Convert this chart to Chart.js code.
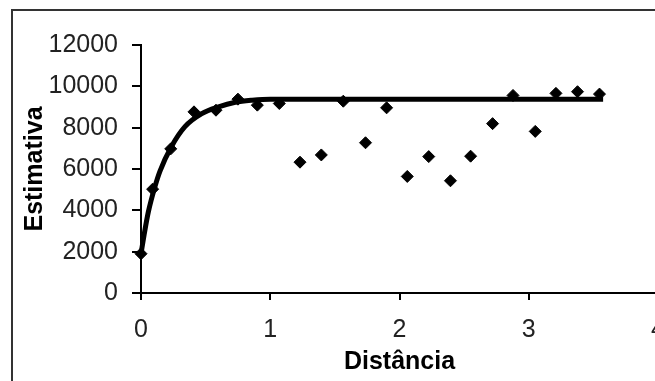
<!DOCTYPE html>
<html>
<head>
<meta charset="utf-8">
<script src="https://cdn.jsdelivr.net/npm/chart.js@4"></script>
<style>
  html, body { margin: 0; padding: 0; width: 655px; height: 381px; overflow: hidden; background: #fff; }
  #wrap { position: absolute; left: 0; top: 0; width: 680px; height: 381px; }
  #frame { position: absolute; left: 11px; top: 9px; width: 700px; height: 400px; border: 2px solid #333; box-sizing: border-box; }
</style>
</head>
<body>
<div id="frame"></div>
<div id="wrap"><canvas id="c" width="680" height="381"></canvas></div>
<script>
// Observed points (Distância, Estimativa)
const pointX = [0, 0.09, 0.23, 0.41, 0.58, 0.75, 0.90, 1.07, 1.23, 1.395, 1.565, 1.737, 1.90, 2.06, 2.226, 2.394, 2.55, 2.72, 2.878, 3.05, 3.21, 3.377, 3.547];
const pointY = [1900, 5025, 6975, 8765, 8845, 9380, 9090, 9170, 6330, 6680, 9280, 7270, 8960, 5640, 6600, 5430, 6620, 8195, 9560, 7820, 9660, 9740, 9625];
// Fitted curve
const curveX = [0, 0.025, 0.056, 0.108, 0.147, 0.237, 0.34, 0.47, 0.60, 0.73, 0.86, 1.0, 3.575];
const curveY = [1900, 2850, 3900, 5150, 5900, 7100, 8050, 8680, 9010, 9230, 9330, 9380, 9380];
// Axis ticks
const xTicks = [0, 1, 2, 3, 4];
const yTicks = [0, 2000, 4000, 6000, 8000, 10000, 12000];

const toXY = (xs, ys) => xs.map((x, i) => ({ x: x, y: ys[i] }));

new Chart(document.getElementById('c'), {
  type: 'scatter',
  data: {
    datasets: [
      {
        type: 'line',
        data: toXY(curveX, curveY),
        borderColor: '#000',
        borderWidth: 5,
        pointRadius: 0,
        cubicInterpolationMode: 'monotone',
        fill: false,
        clip: false,
        order: 1
      },
      {
        data: toXY(pointX, pointY),
        backgroundColor: '#000',
        borderColor: '#000',
        pointStyle: 'rectRot',
        pointRadius: 6,
        borderWidth: 1,
        clip: false,
        order: 2
      }
    ]
  },
  options: {
    responsive: false,
    animation: false,
    devicePixelRatio: 1,
    layout: { padding: { left: 0, top: 45, right: 21, bottom: 0 } },
    plugins: { legend: { display: false }, tooltip: { enabled: false } },
    scales: {
      x: {
        type: 'linear',
        min: xTicks[0], max: xTicks[xTicks.length - 1],
        afterBuildTicks: s => { s.ticks = xTicks.map(v => ({ value: v })); },
        afterFit: s => { s.height = 88; },
        grid: { drawOnChartArea: false, drawTicks: true, tickLength: 7, color: '#000', lineWidth: 2 },
        border: { display: true, color: '#000', width: 2 },
        ticks: { color: '#222', font: { family: 'Liberation Sans', size: 25 }, padding: 15, maxRotation: 0, callback: v => String(v) },
        title: { display: true, text: 'Distância', color: '#000', font: { family: 'Liberation Sans', size: 25, weight: 'bold' }, padding: { top: 0, bottom: 4 } }
      },
      y: {
        type: 'linear',
        min: yTicks[0], max: yTicks[yTicks.length - 1],
        afterBuildTicks: s => { s.ticks = yTicks.map(v => ({ value: v })); },
        afterFit: s => { s.width = 141; },
        grid: { drawOnChartArea: false, drawTicks: true, tickLength: 9, color: '#000', lineWidth: 2 },
        border: { display: true, color: '#000', width: 2 },
        ticks: { color: '#222', font: { family: 'Liberation Sans', size: 25 }, padding: 14, callback: v => String(v) },
        title: { display: true, text: 'Estimativa', color: '#000', font: { family: 'Liberation Sans', size: 25, weight: 'bold' }, padding: { top: 20, bottom: 0 } }
      }
    }
  }
});
</script>
</body>
</html>
